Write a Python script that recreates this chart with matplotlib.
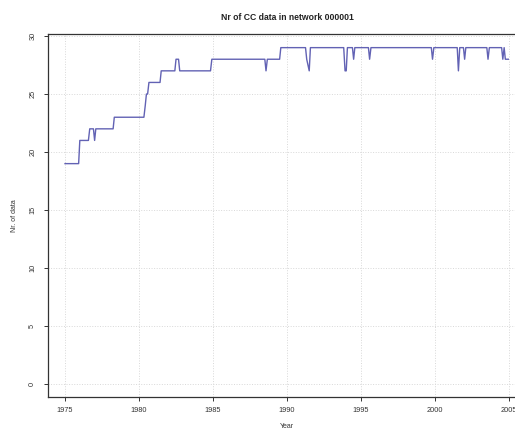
import matplotlib
matplotlib.use("Agg")
import matplotlib.pyplot as plt

# vertices of the monthly series (year, count)
years = [1975.0, 1975.92, 1976.0, 1976.58, 1976.67, 1976.92, 1977.0, 1977.08,
         1978.25, 1978.33, 1980.33, 1980.42, 1980.5, 1980.58, 1980.67,
         1981.42, 1981.5, 1982.42, 1982.5, 1982.67, 1982.75,
         1984.83, 1984.92, 1988.5, 1988.58, 1988.67, 1989.5, 1989.58,
         1991.25, 1991.33, 1991.5, 1991.58,
         1993.83, 1993.92, 1994.0, 1994.08,
         1994.42, 1994.5, 1994.58, 1995.5, 1995.58, 1995.67,
         1999.75, 1999.83, 1999.92, 2001.5, 2001.58, 2001.67,
         2001.92, 2002.0, 2002.08, 2003.5, 2003.58, 2003.67,
         2004.5, 2004.58, 2004.67, 2004.75, 2004.95]
counts = [19, 19, 21, 21, 22, 22, 21, 22,
          22, 23, 23, 24, 25, 25, 26,
          26, 27, 27, 28, 28, 27,
          27, 28, 28, 27, 28, 28, 29,
          29, 28, 27, 29,
          29, 27, 27, 29,
          29, 28, 29, 29, 28, 29,
          29, 28, 29, 29, 27, 29,
          29, 28, 29, 29, 28, 29,
          29, 28, 29, 28, 28]

xticks = [1975, 1980, 1985, 1990, 1995, 2000, 2005]
yticks = [0, 5, 10, 15, 20, 25, 30]

plt.rcParams['font.family'] = ['Liberation Sans', 'DejaVu Sans']

fig = plt.figure(figsize=(5.15, 4.28), dpi=100)
ax = fig.add_axes([0.0932, 0.0724, 0.9297, 0.848])

ax.plot(years, counts, color='#6262b4', lw=1.0)

ax.set_xlim(1973.85, 2006.2)
ax.set_ylim(-1.12, 30.17)
ax.set_xticks(xticks)
ax.set_yticks(yticks)
ax.grid(True, color='#d8d8d8', linestyle=':', linewidth=0.7)
ax.tick_params(labelsize=5.3, length=3, width=0.7, colors='#333333')
ax.tick_params(axis='x', pad=4.5)
ax.tick_params(axis='y', pad=5.5)
for lbl in ax.get_yticklabels():
    lbl.set_rotation(90)
    lbl.set_va('center')
for sp in ax.spines.values():
    sp.set_color('#333333')
    sp.set_linewidth(0.9)

ax.set_title('Nr of CC data in network 000001', fontsize=6.2,
             fontweight='bold', color='#222222', pad=10)
ax.set_ylabel('Nr. of data', fontsize=5.0, color='#333333', labelpad=8)
ax.set_xlabel('Year', fontsize=5.0, color='#333333', labelpad=6.5)

fig.savefig('out.png', dpi=100)
